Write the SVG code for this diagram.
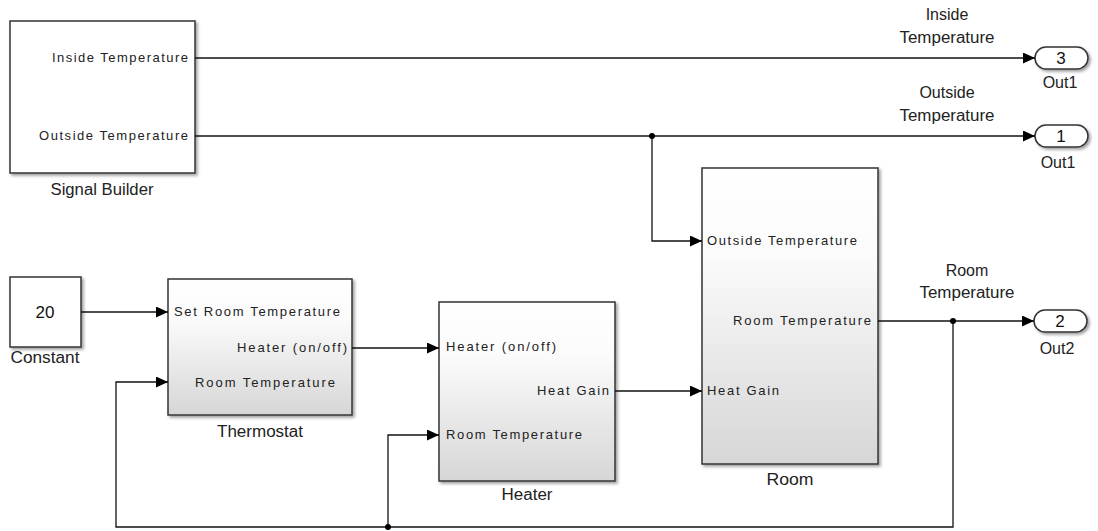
<svg xmlns="http://www.w3.org/2000/svg" width="1098" height="531" viewBox="0 0 1098 531">
<style>
.blk{stroke:#333;stroke-width:1.5}
.wh{fill:#fff}
.gr{fill:url(#g)}
.port{font-family:"Liberation Sans",Arial,sans-serif;font-size:13px;fill:#222}
.lbl{font-family:"Liberation Sans",Arial,sans-serif;font-size:16px;fill:#222;text-anchor:middle}
.num{font-family:"Liberation Sans",Arial,sans-serif;font-size:17px;fill:#111;text-anchor:middle}
.ln{fill:none;stroke:#111;stroke-width:1.3}
.end{text-anchor:end}
</style>
<defs>
<linearGradient id="g" x1="0" y1="0" x2="0" y2="1">
<stop offset="0" stop-color="#ffffff"/>
<stop offset="0.3" stop-color="#fbfbfb"/>
<stop offset="1" stop-color="#d6d6d6"/>
</linearGradient>
<filter id="sh" x="-10%" y="-10%" width="130%" height="130%">
<feDropShadow dx="2" dy="2" stdDeviation="1.5" flood-color="#777" flood-opacity="0.7"/>
</filter>
<marker id="ar" markerWidth="13" markerHeight="11" refX="12" refY="5.5" orient="auto" markerUnits="userSpaceOnUse">
<path d="M0,0 L12,5.5 L0,11 Z" fill="#000"/>
</marker>
</defs>
<rect width="1098" height="531" fill="#fff"/>

<g id="signal-builder">
<rect class="blk wh" x="10" y="21" width="185" height="152" filter="url(#sh)"/>
<text class="port end" x="188" y="62" textLength="136" lengthAdjust="spacing">Inside Temperature</text>
<text class="port end" x="188" y="140" textLength="149" lengthAdjust="spacing">Outside Temperature</text>
<text class="lbl" x="102" y="195" textLength="103" lengthAdjust="spacingAndGlyphs">Signal Builder</text>
</g>

<g id="constant">
<rect class="blk wh" x="10" y="277" width="71" height="70" filter="url(#sh)"/>
<text class="num" x="45" y="318">20</text>
<text class="lbl" x="45" y="363" textLength="69" lengthAdjust="spacingAndGlyphs">Constant</text>
</g>

<g id="thermostat">
<rect class="blk gr" x="168" y="279" width="184" height="136" filter="url(#sh)"/>
<text class="port" x="174" y="316" textLength="166" lengthAdjust="spacing">Set Room Temperature</text>
<text class="port end" x="347" y="352" textLength="110" lengthAdjust="spacing">Heater (on/off)</text>
<text class="port" x="195" y="387" textLength="140" lengthAdjust="spacing">Room  Temperature</text>
<text class="lbl" x="260" y="437" textLength="86" lengthAdjust="spacingAndGlyphs">Thermostat</text>
</g>

<g id="heater">
<rect class="blk gr" x="439" y="302" width="176" height="179" filter="url(#sh)"/>
<text class="port" x="446" y="351" textLength="110" lengthAdjust="spacing">Heater (on/off)</text>
<text class="port end" x="609" y="395" textLength="72" lengthAdjust="spacing">Heat Gain</text>
<text class="port" x="446" y="439" textLength="136" lengthAdjust="spacing">Room Temperature</text>
<text class="lbl" x="527" y="500" textLength="51" lengthAdjust="spacingAndGlyphs">Heater</text>
</g>

<g id="room">
<rect class="blk gr" x="702" y="168" width="176" height="296" filter="url(#sh)"/>
<text class="port" x="707" y="245" textLength="150" lengthAdjust="spacing">Outside Temperature</text>
<text class="port end" x="871" y="325" textLength="138" lengthAdjust="spacing">Room Temperature</text>
<text class="port" x="707" y="395" textLength="72" lengthAdjust="spacing">Heat Gain</text>
<text class="lbl" x="790" y="485" textLength="47" lengthAdjust="spacingAndGlyphs">Room</text>
</g>

<g id="out3">
<rect class="blk wh" x="1035" y="47" width="53" height="22" rx="11" filter="url(#sh)"/>
<text class="num" x="1061" y="64">3</text>
<text class="lbl" x="1060" y="88">Out1</text>
</g>

<g id="out1">
<rect class="blk wh" x="1035" y="125" width="53" height="22" rx="11" filter="url(#sh)"/>
<text class="num" x="1061" y="142">1</text>
<text class="lbl" x="1058" y="168">Out1</text>
</g>

<g id="out2">
<rect class="blk wh" x="1034" y="310" width="53" height="22" rx="11" filter="url(#sh)"/>
<text class="num" x="1060" y="327">2</text>
<text class="lbl" x="1057" y="354">Out2</text>
</g>

<g id="connectors">
<path class="ln" d="M195,58 H1035" marker-end="url(#ar)"/>
<path class="ln" d="M195,136 H1035" marker-end="url(#ar)"/>
<path class="ln" d="M652,136 V241 H702" marker-end="url(#ar)"/>
<path class="ln" d="M81,312 H168" marker-end="url(#ar)"/>
<path class="ln" d="M352,348 H439" marker-end="url(#ar)"/>
<path class="ln" d="M615,391 H702" marker-end="url(#ar)"/>
<path class="ln" d="M878,321 H1034" marker-end="url(#ar)"/>
<path class="ln" d="M953,321 V527 H116 V382 H168" marker-end="url(#ar)"/>
<path class="ln" d="M388,527 V435 H439" marker-end="url(#ar)"/>
<circle cx="652" cy="136" r="3" fill="#000"/>
<circle cx="953" cy="321" r="3" fill="#000"/>
<circle cx="388" cy="527" r="3" fill="#000"/>
<text class="lbl" x="947" y="20">Inside</text>
<text class="lbl" x="947" y="43" textLength="95" lengthAdjust="spacingAndGlyphs">Temperature</text>
<text class="lbl" x="947" y="98">Outside</text>
<text class="lbl" x="947" y="121" textLength="95" lengthAdjust="spacingAndGlyphs">Temperature</text>
<text class="lbl" x="967" y="276">Room</text>
<text class="lbl" x="967" y="298" textLength="95" lengthAdjust="spacingAndGlyphs">Temperature</text>
</g>
</svg>
